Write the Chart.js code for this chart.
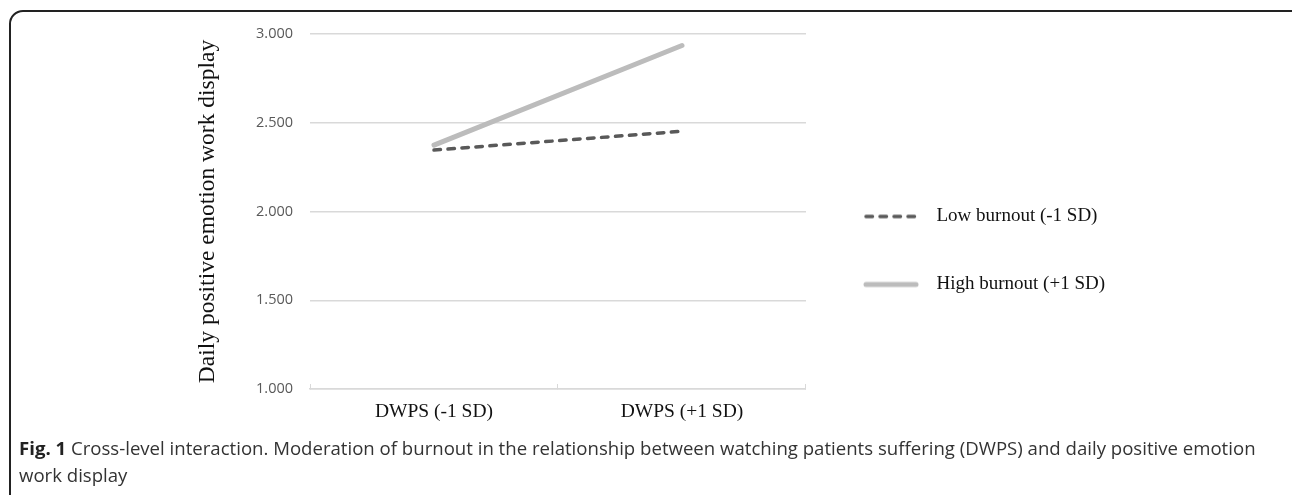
<!DOCTYPE html>
<html>
<head>
<meta charset="utf-8">
<script src="https://cdn.jsdelivr.net/npm/chart.js@4/dist/chart.umd.min.js"></script>
<style>
  html, body { margin: 0; padding: 0; background: #fff; }
  body { width: 1292px; height: 495px; overflow: hidden; position: relative; }
  #frame {
    position: absolute; left: 9px; top: 10px; width: 1300px; height: 520px;
    border: 2px solid #222; border-radius: 14px; box-sizing: border-box;
  }
  #wrap { position: absolute; left: 0; top: 0; width: 1292px; height: 467px; }
  #caption {
    position: absolute; left: 19px; top: 434px; width: 1250px; z-index: 2;
    font-family: "Open Sans", sans-serif; font-size: 18.6px; line-height: 27px; color: #333;
  }
  #caption b { color: #222; }
</style>
</head>
<body>
<div id="frame"></div>
<div id="wrap"><canvas id="lineCanvas"></canvas></div>
<div id="caption"><b>Fig. 1</b> Cross-level interaction. Moderation of burnout in the relationship between watching patients suffering (DWPS) and daily positive emotion work display</div>
<script>
const categories = ["DWPS (-1 SD)", "DWPS (+1 SD)"];

const lowBurnout = [2.346, 2.452];
const highBurnout = [2.374, 2.935];

const yTicks = [1.0, 1.5, 2.0, 2.5, 3.0];

// small picture of a line used as the legend symbol
function legendSwatch(color, width, dash) {
    const c = document.createElement("canvas");
    c.width = 72;
    c.height = 12;
    const g = c.getContext("2d");
    g.strokeStyle = color;
    g.lineWidth = width;
    g.lineCap = "round";
    g.setLineDash(dash);
    g.beginPath();
    g.moveTo(11, 6);
    g.lineTo(61, 6);
    g.stroke();
    return c;
}

const lineCanvas = document.getElementById("lineCanvas");

const lineChart = new Chart(lineCanvas, {
    type: "line",
    data: {
        labels: categories,
        datasets: [
            {
                label: "Low burnout (-1 SD)",
                data: lowBurnout,
                borderColor: "rgb(89, 89, 89)",
                backgroundColor: "rgb(89, 89, 89)",
                borderWidth: 3.5,
                borderDash: [6.5, 7.5],
                borderCapStyle: "round",
                pointRadius: 0,
            },
            {
                label: "High burnout (+1 SD)",
                data: highBurnout,
                borderColor: "rgb(188, 188, 188)",
                backgroundColor: "rgb(188, 188, 188)",
                borderWidth: 5,
                borderCapStyle: "round",
                pointRadius: 0,
            },
        ],
    },
    options: {
        responsive: true,
        maintainAspectRatio: false,
        animation: false,
        layout: { padding: { left: 190, right: 177, top: 34, bottom: 0 } },
        plugins: {
            tooltip: { enabled: false },
            legend: {
                position: "right",
                align: "center",
                maxWidth: 400,
                labels: {
                    usePointStyle: true,
                    pointStyleWidth: 72,
                    boxHeight: 12,
                    padding: 49,
                    color: "#111",
                    font: { family: "Liberation Serif", size: 19 },
                    generateLabels: (chart) =>
                        chart.data.datasets.map((ds, i) => ({
                            text: ds.label,
                            datasetIndex: i,
                            hidden: false,
                            fontColor: "#111",
                            lineWidth: 0,
                            pointStyle: legendSwatch(ds.borderColor, ds.borderWidth, ds.borderDash || []),
                        })),
                },
            },
        },
        scales: {
            x: {
                offset: true,
                afterFit: (scale) => {
                    scale.height = 78;
                },
                ticks: {
                    autoSkip: false,
                    maxRotation: 0,
                    padding: 16,
                    color: "#111",
                    font: { family: "Liberation Serif", size: 19.5 },
                },
                grid: {
                    offset: true,
                    drawOnChartArea: false,
                    tickLength: -5,
                    color: "#d9d9d9",
                },
                border: { color: "#d9d9d9", width: 1.5 },
            },
            y: {
                min: 1,
                max: 3,
                afterBuildTicks: (scale) => {
                    scale.ticks = yTicks.map((v) => ({ value: v }));
                },
                afterFit: (scale) => {
                    scale.width = 120;
                },
                ticks: {
                    padding: 17,
                    color: "#595959",
                    font: { family: "Open Sans", size: 14.5 },
                    callback: (v) => v.toFixed(3),
                },
                grid: { color: "#d9d9d9", lineWidth: 1.5, drawTicks: false },
                border: { display: false },
                title: {
                    display: true,
                    text: "Daily positive emotion work display",
                    color: "#111",
                    font: { family: "Liberation Serif", size: 23.5 },
                    padding: { top: 4, bottom: 0 },
                },
            },
        },
    },
});
</script>
</body>
</html>
